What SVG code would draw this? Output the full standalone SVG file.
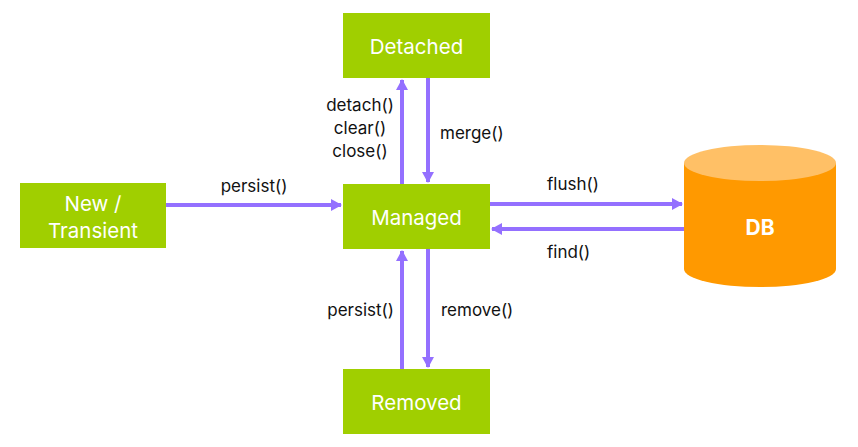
<svg xmlns="http://www.w3.org/2000/svg" width="858" height="447" viewBox="0 0 858 447">
<defs>
<style>
.node{fill:#a0cf00}
.nt{font-family:Inter,"Liberation Sans",sans-serif;font-size:20.5px;fill:#ffffff;text-anchor:middle;dominant-baseline:central}
.lb{font-family:Inter,"Liberation Sans",sans-serif;font-size:17px;fill:#111111}
.edge{stroke:#9470ff;stroke-width:4;fill:none;marker-end:url(#ah)}
</style>
<marker id="ah" markerUnits="userSpaceOnUse" markerWidth="14" markerHeight="14" refX="10" refY="7" orient="auto">
<path d="M0,1 L11,7 L0,13 Z" fill="#9470ff"/>
</marker>
</defs>
<rect width="858" height="447" fill="#ffffff"/>
<g id="connectors">
<line class="edge" x1="166" y1="205" x2="341" y2="205"/>
<line class="edge" x1="402" y1="184" x2="402" y2="80"/>
<line class="edge" x1="428" y1="78" x2="428" y2="182"/>
<line class="edge" x1="490" y1="204" x2="682" y2="204"/>
<line class="edge" x1="684" y1="229" x2="492" y2="229"/>
<line class="edge" x1="402" y1="369" x2="402" y2="251"/>
<line class="edge" x1="428" y1="249" x2="428" y2="367"/>
</g>
<g id="labels">
<text class="lb" x="254" y="192" text-anchor="middle">persist()</text>
<text class="lb" x="360" y="111" text-anchor="middle">detach()</text>
<text class="lb" x="360" y="134" text-anchor="middle">clear()</text>
<text class="lb" x="360" y="157" text-anchor="middle">close()</text>
<text class="lb" x="440" y="139">merge()</text>
<text class="lb" x="547" y="190">flush()</text>
<text class="lb" x="547" y="258">find()</text>
<text class="lb" x="394" y="316" text-anchor="end">persist()</text>
<text class="lb" x="441" y="316">remove()</text>
</g>
<g id="node-detached">
<rect class="node" x="343" y="13" width="147" height="65"/>
<text class="nt" x="416.5" y="46">Detached</text>
</g>
<g id="node-managed">
<rect class="node" x="343" y="184" width="147" height="65"/>
<text class="nt" x="416.5" y="217">Managed</text>
</g>
<g id="node-new">
<rect class="node" x="20" y="183" width="146" height="65"/>
<text class="nt" x="93" y="203">New /</text>
<text class="nt" x="93" y="230">Transient</text>
</g>
<g id="node-removed">
<rect class="node" x="343" y="369" width="147" height="65"/>
<text class="nt" x="416.5" y="402">Removed</text>
</g>
<g id="node-db">
<path d="M684,163 L684,269 A76,18 0 0 0 836,269 L836,163 Z" fill="#ff9900"/>
<ellipse cx="760" cy="163" rx="76" ry="18" fill="#ffc066"/>
<text x="760" y="227" font-family="Inter,'Liberation Sans',sans-serif" font-size="21" font-weight="bold" fill="#ffffff" text-anchor="middle" dominant-baseline="central">DB</text>
</g>
</svg>
